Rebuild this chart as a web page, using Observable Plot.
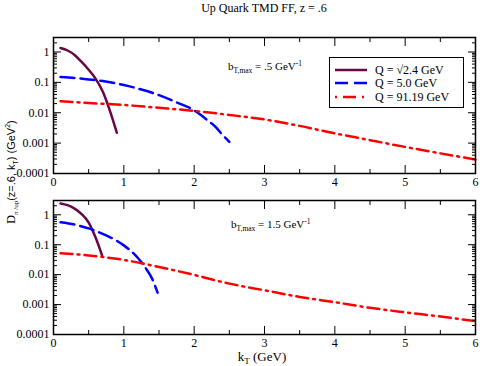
<!DOCTYPE html>
<html><head><meta charset="utf-8">
<script src="https://cdn.jsdelivr.net/npm/d3@7"></script>
<script src="https://cdn.jsdelivr.net/npm/@observablehq/plot@0.6"></script>
<style>
body{margin:0;background:#fff;}
#c{position:relative;width:480px;height:366px;font-family:"Liberation Serif",serif;color:#000;overflow:hidden;background:#fff}
#c svg{position:absolute;left:0}
#c svg text{font-family:"Liberation Serif",serif !important;font-size:12px}
.abs{position:absolute;white-space:nowrap}
.sub{font-size:7.5px;vertical-align:-3px}
.sup{font-size:7.5px;vertical-align:4px}
</style></head><body><div id="c"></div>
<script>
// ---- data ----
const titleText = "Up Quark TMD FF, z = .6";
const seriesLabels = ["Q = \u221A2.4 GeV", "Q = 5.0 GeV", "Q = 91.19 GeV"];
const seriesColors = ["#670748", "#0000ff", "#ff0000"];
const seriesDashes = [null, "14,6", "12,5,2,5"];
const xMajor = [0, 1, 2, 3, 4, 5, 6];
const xMinor = [0.5, 1.5, 2.5, 3.5, 4.5, 5.5];
const yMajor = [0.0001, 0.001, 0.01, 0.1, 1];
const yMinorFactors = [2, 3, 4, 5, 6, 7, 8, 9];
const bTmaxLabels = [".5", "1.5"];

// top panel: bT,max = .5 GeV^-1
const kT_q1_top = [0.1, 0.2, 0.3, 0.4, 0.5, 0.6, 0.7, 0.8, 0.9];
const D_q1_top  = [1.35, 1.12, 0.8, 0.47, 0.26, 0.13, 0.05, 0.012, 0.0022];
const kT_q2_top = [0.1, 0.3, 0.5, 0.7, 1.0, 1.25, 1.5, 1.75, 2.0, 2.1, 2.2, 2.3, 2.4, 2.5];
const D_q2_top  = [0.15, 0.14, 0.125, 0.11, 0.082, 0.058, 0.038, 0.022, 0.012, 0.0083, 0.0054, 0.0035, 0.0019, 0.0011];
const kT_q3_top = [0.1, 0.5, 1.0, 1.5, 2.0, 2.5, 3.0, 3.5, 4.0, 4.5, 5.0, 5.5, 6.0];
const D_q3_top  = [0.024, 0.021, 0.018, 0.0145, 0.0115, 0.0085, 0.006, 0.0037, 0.0021, 0.00125, 0.00075, 0.00046, 0.00029];

// bottom panel: bT,max = 1.5 GeV^-1
const kT_q1_bot = [0.1, 0.2, 0.3, 0.4, 0.5, 0.6, 0.69];
const D_q1_bot  = [2.4, 2.1, 1.6, 1.05, 0.55, 0.17, 0.044];
const kT_q2_bot = [0.1, 0.3, 0.5, 0.7, 0.9, 1.0, 1.1, 1.2, 1.3, 1.4, 1.48];
const D_q2_bot  = [0.56, 0.47, 0.35, 0.23, 0.135, 0.095, 0.062, 0.036, 0.018, 0.0075, 0.0025];
const kT_q3_bot = [0.1, 0.5, 1.0, 1.5, 2.0, 2.5, 3.0, 3.5, 4.0, 4.5, 5.0, 5.5, 6.0];
const D_q3_bot  = [0.052, 0.044, 0.031, 0.018, 0.0098, 0.005, 0.003, 0.0018, 0.0012, 0.00078, 0.00055, 0.0004, 0.00028];

// ---- build ----
const rows = (k, d) => k.map((x, i) => ({k: x, d: d[i]}));
const yMinor = yMajor.flatMap(d => yMinorFactors.map(f => f * d)).filter(v => v < 3);
const fmt = d => String(d);
const serif = "Liberation Serif";

function panel(seriesData, opts) {
  const marks = [];
  seriesData.forEach((data, i) => {
    marks.push(Plot.line(data, {x: "k", y: "d", stroke: seriesColors[i], strokeWidth: 2.5,
      strokeDasharray: seriesDashes[i], curve: "monotone-x"}));
  });
  const none = () => "";
  marks.push(
    Plot.axisX({anchor: "bottom", ticks: xMajor, tickSize: -8, tickPadding: 12, tickFormat: fmt, label: null, fontFamily: serif}),
    Plot.axisX({anchor: "bottom", ticks: xMinor, tickSize: -4, tickFormat: none, label: null}),
    Plot.axisX({anchor: "top", ticks: xMajor, tickSize: -8, tickFormat: none, label: null}),
    Plot.axisX({anchor: "top", ticks: xMinor, tickSize: -4, tickFormat: none, label: null}),
    Plot.axisY({anchor: "left", ticks: yMajor, tickSize: -8, tickPadding: 12, tickFormat: fmt, label: null, fontFamily: serif}),
    Plot.axisY({anchor: "left", ticks: yMinor, tickSize: -4, tickFormat: none, label: null}),
    Plot.axisY({anchor: "right", ticks: yMajor, tickSize: -8, tickFormat: none, label: null}),
    Plot.axisY({anchor: "right", ticks: yMinor, tickSize: -4, tickFormat: none, label: null}),
    Plot.frame({stroke: "black", strokeWidth: 1.5})
  );
  const svg = Plot.plot({
    width: 480, height: opts.height,
    marginLeft: 53, marginRight: 5, marginTop: opts.marginTop, marginBottom: opts.marginBottom,
    x: {domain: [0, 6]},
    y: {type: "log", domain: [0.0001, 3]},
    style: {fontFamily: serif, fontSize: "12px", color: "black", background: "transparent", overflow: "visible"},
    marks
  });
  svg.style.top = opts.top + "px";
  svg.setAttribute("font-family", serif);
  svg.setAttribute("font-size", "12");
  svg.style.fontFamily = '"Liberation Serif", serif';
  svg.style.fontSize = "12px";
  d3.select(svg).selectAll("g[aria-label$='tick label']").attr("font-family", serif).style("font-family", '"Liberation Serif", serif');
  d3.select(svg).selectAll("text").attr("font-family", serif).style("font-family", '"Liberation Serif", serif');
  return svg;
}

const c = document.getElementById("c");
c.appendChild(panel([rows(kT_q1_top, D_q1_top), rows(kT_q2_top, D_q2_top), rows(kT_q3_top, D_q3_top)],
  {top: 0, height: 190, marginTop: 37, marginBottom: 17}));
c.appendChild(panel([rows(kT_q1_bot, D_q1_bot), rows(kT_q2_bot, D_q2_bot), rows(kT_q3_bot, D_q3_bot)],
  {top: 190, height: 176, marginTop: 10, marginBottom: 32}));

function addDiv(html, style) {
  const d = document.createElement("div");
  d.className = "abs";
  d.innerHTML = html;
  Object.assign(d.style, style);
  c.appendChild(d);
  return d;
}

// title
addDiv(titleText, {left: "53px", width: "422px", top: "1px", textAlign: "center", fontSize: "12px", lineHeight: "14px"});
// x label
addDiv('k<span style="font-size:9px;vertical-align:-3px">T</span> (GeV)',
  {left: "53px", width: "418px", top: "349px", textAlign: "center", fontSize: "13px", lineHeight: "15px"});
// y label
addDiv('<span style="font-size:12px">D</span><span style="font-size:7px;vertical-align:-3px">\u03C0 /up</span>' +
  '<span style="font-family:\'Liberation Sans\',sans-serif;font-size:11px">(z=.6, k<span style="font-size:7px;vertical-align:-3px">T</span>) (GeV<span style="font-size:7px;vertical-align:5px">2</span>)</span>',
  {left: "12px", top: "172px", transform: "translate(-50%,-50%) rotate(-90deg)", lineHeight: "13px"});
// bT,max annotations
addDiv('b<span class="sub">T,max</span> = ' + bTmaxLabels[0] + ' GeV<span class="sup">-1</span>',
  {left: "228px", top: "57px", fontSize: "11px", lineHeight: "13px"});
addDiv('b<span class="sub">T,max</span> = ' + bTmaxLabels[1] + ' GeV<span class="sup">-1</span>',
  {left: "231px", top: "215px", fontSize: "11px", lineHeight: "13px"});

// legend
const leg = addDiv("", {left: "329px", top: "57px", width: "135px", height: "51px", border: "1px solid black", background: "white", boxSizing: "border-box"});
seriesLabels.forEach((lab, i) => {
  const cy = 12 + 13.3 * i;
  const sw = document.createElementNS("http://www.w3.org/2000/svg", "svg");
  sw.setAttribute("width", "34"); sw.setAttribute("height", "8");
  sw.style.position = "absolute"; sw.style.left = "5px"; sw.style.top = (cy - 4) + "px";
  const ln = document.createElementNS("http://www.w3.org/2000/svg", "line");
  ln.setAttribute("x1", "0"); ln.setAttribute("x2", "32"); ln.setAttribute("y1", "4"); ln.setAttribute("y2", "4");
  ln.setAttribute("stroke", seriesColors[i]); ln.setAttribute("stroke-width", "2.5");
  if (seriesDashes[i]) ln.setAttribute("stroke-dasharray", i === 2 ? "2,6,13,6" : "13,6");
  sw.appendChild(ln);
  leg.appendChild(sw);
  const t = document.createElement("div");
  t.className = "abs";
  t.textContent = lab;
  Object.assign(t.style, {left: "45px", top: (cy - 7) + "px", fontSize: "12px", lineHeight: "14px"});
  leg.appendChild(t);
});
</script>
</body></html>
